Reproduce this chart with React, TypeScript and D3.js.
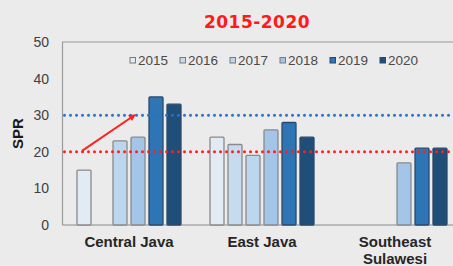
import React from 'react';
import * as d3 from 'd3';

const regions = ['Central Java', 'East Java', 'Southeast Sulawesi'];
const years = ['2015', '2016', '2017', '2018', '2019', '2020'];
// null = no bar
const values: (number | null)[][] = [
  [15, null, 23, 24, 35, 33],
  [24, 22, 19, 26, 28, 24],
  [null, null, null, 17, 21, 21],
];
const yearColors = ['#e2eaf4', '#c7dbef', '#bcd6ee', '#a2c5e8', '#2e75b6', '#1f4e79'];
const yTicks = [0, 10, 20, 30, 40, 50];
const refLines = [
  { value: 30, color: '#2e6fc0' },
  { value: 20, color: '#ff1f1f' },
];

export default function App() {
  const width = 453;
  const height = 266;
  const left = 62.5;
  const top = 42;
  const bottom = 225;
  const plotRight = 461.5;

  const x = d3.scaleBand<string>().domain(regions).range([left, plotRight]);
  const y = d3.scaleLinear().domain([0, 50]).range([bottom, top]);
  const barStep = 18;
  const barW = 14;
  const groupW = barStep * (years.length - 1) + barW;

  const arrowFrom = { x: 82, y: y(20) - 1 };
  const arrowTo = { x: 136, y: y(30) - 1 };
  const ang = Math.atan2(arrowTo.y - arrowFrom.y, arrowTo.x - arrowFrom.x);
  const head = 8;

  return (
    <svg width={width} height={height} style={{ position: 'fixed', left: 0, top: 0, background: '#ebebeb' }}
      fontFamily="Liberation Sans, Arial, sans-serif">
      <rect width={width} height={height} fill="#ebebeb" />
      <text x={257} y={28} textAnchor="middle" fontSize={17} fontWeight="bold" fill="#ff1a1a"
        fontFamily="DejaVu Sans, sans-serif" letterSpacing={0.5}>2015-2020</text>

      {/* frame */}
      <path d={`M${left},${bottom}V${top}H${width}`} fill="none" stroke="#9a9a9a" strokeWidth={1.2} />
      <line x1={left} x2={width} y1={bottom} y2={bottom} stroke="#8c8c8c" strokeWidth={1.2} />

      {yTicks.map(t => (
        <text key={t} x={49} y={y(t) + 5} textAnchor="end" fontSize={14} fill="#404040">{t}</text>
      ))}
      <text transform={`translate(23,${y(25)}) rotate(-90)`} textAnchor="middle" fontSize={15}
        fontWeight="bold" fill="#1a1a1a">SPR</text>

      {regions.map((r, i) => {
        const gx = (x(r) as number) + (x.bandwidth() - groupW) / 2;
        return (
          <g key={r}>
            {values[i].map((v, j) => v == null ? null : (
              <rect key={j} x={gx + j * barStep} y={y(v)} width={barW} height={bottom - y(v)}
                fill={yearColors[j]} stroke={j >= 4 ? '#2b4a6a' : '#8a8a8a'} strokeWidth={1.3} rx={1} />
            ))}
          </g>
        );
      })}

      {refLines.map(l => (
        <line key={l.value} x1={left + 2} x2={width} y1={y(l.value)} y2={y(l.value)}
          stroke={l.color} strokeWidth={3} strokeDasharray="0 6" strokeLinecap="round" />
      ))}

      <line x1={arrowFrom.x} y1={arrowFrom.y} x2={arrowTo.x - Math.cos(ang) * 5} y2={arrowTo.y - Math.sin(ang) * 5}
        stroke="#ff2020" strokeWidth={2} />
      <path d={`M${arrowTo.x},${arrowTo.y}
        L${arrowTo.x - head * Math.cos(ang - 0.45)},${arrowTo.y - head * Math.sin(ang - 0.45)}
        L${arrowTo.x - head * Math.cos(ang + 0.45)},${arrowTo.y - head * Math.sin(ang + 0.45)}Z`} fill="#ff2020" />

      {/* legend */}
      {years.map((yr, j) => {
        const lx = 130 + j * 50;
        return (
          <g key={yr}>
            <rect x={lx} y={57.5} width={5.5} height={5.5} fill={yearColors[j]}
              stroke={j >= 4 ? '#2b4a6a' : '#7a7a7a'} strokeWidth={1} />
            <text x={lx + 8} y={65} fontSize={13.5} fill="#4a4a4a">{yr}</text>
          </g>
        );
      })}

      {regions.map(r => {
        const cx = (x(r) as number) + x.bandwidth() / 2;
        const lines = r === 'Southeast Sulawesi' ? ['Southeast', 'Sulawesi'] : [r];
        return lines.map((ln, k) => (
          <text key={r + k} x={cx} y={247 + k * 17} textAnchor="middle" fontSize={15} fontWeight="bold"
            fill="#262626">{ln}</text>
        ));
      })}
    </svg>
  );
}
